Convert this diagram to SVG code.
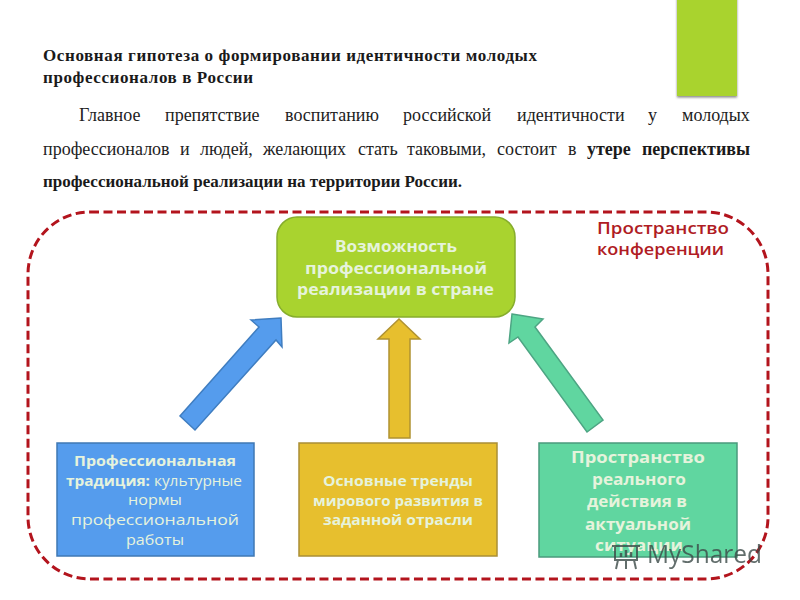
<svg xmlns="http://www.w3.org/2000/svg" width="800" height="600" viewBox="0 0 800 600">
<style>
.h{font:bold 17px "Liberation Serif",serif;fill:#1a1a1a}
.p{font:18px "Liberation Serif",serif;fill:#222}
.b{font:bold 18px "Liberation Serif",serif;fill:#1a1a1a}
.b3{font:bold 17px "Liberation Serif",serif;fill:#1a1a1a}
.l{font-family:"Open Sans","Liberation Sans",sans-serif;font-weight:700;fill:#e6f3dc}
.n{font-weight:400}
.r{font-family:"Open Sans","Liberation Sans",sans-serif;font-weight:600;font-size:17px;fill:#b01c24}
.box{stroke-width:1.5}
.wm{stroke:#3c4a48;fill:none;stroke-width:2}
</style>
<defs>
<filter id="sh" x="-20%" y="-20%" width="140%" height="140%"><feDropShadow dx="0" dy="1.5" stdDeviation="1" flood-color="#555" flood-opacity=".7"/></filter>
</defs>
<rect width="800" height="600" fill="#fff"/>
<g id="title">
<text class="h" x="43" y="61" textLength="494">Основная гипотеза о формировании идентичности молодых</text>
<text class="h" x="43" y="83" textLength="210">профессионалов в России</text>
</g>
<g id="body">
<text class="p" y="121"><tspan x="79">Главное</tspan><tspan x="165">препятствие</tspan><tspan x="285">воспитанию</tspan><tspan x="403">российской</tspan><tspan x="517">идентичности</tspan><tspan x="648">у</tspan><tspan x="682">молодых</tspan></text>
<text class="p" y="155"><tspan x="43">профессионалов</tspan><tspan x="180">и</tspan><tspan x="200">людей,</tspan><tspan x="263">желающих</tspan><tspan x="358">стать</tspan><tspan x="407">таковыми,</tspan><tspan x="497">состоит</tspan><tspan x="568">в</tspan><tspan x="587" class="b">утере</tspan><tspan x="642" class="b">перспективы</tspan></text>
<text class="b3" x="43" y="187" textLength="419">профессиональной реализации на территории России.</text>
</g>
<rect id="accent" x="677" y="-5" width="60" height="101" fill="#a9d32f" filter="url(#sh)"/>
<rect id="conference" x="28" y="212" width="740" height="367" rx="62" fill="none" stroke="#b3141d" stroke-width="3" stroke-dasharray="9 4.5"/>
<text class="r" x="597" y="234" textLength="132" lengthAdjust="spacingAndGlyphs">Пространство</text>
<text class="r" x="597" y="255" textLength="127" lengthAdjust="spacingAndGlyphs">конференции</text>
<g id="connectors" stroke-width="1.5" stroke-linejoin="miter">
<polygon points="281,318 251,320 259,327 180,416 195,430 276,340 282,347" fill="#559ced" stroke="#3f7dc0"/>
<polygon points="399,319 378,339 389,339 389,438 410,438 410,339 420,339" fill="#e7bf2e" stroke="#b09232"/>
<polygon points="512,314 543,319 535,327 603,420 587,432 518,337 509,343" fill="#60d6a0" stroke="#4da583"/>
</g>
<g id="node-top">
<rect class="box" x="277" y="217" width="238" height="100" rx="20" fill="#a9d32f" stroke="#86ad2d"/>
<g class="l" font-size="16">
<text x="335" y="252" textLength="122" lengthAdjust="spacingAndGlyphs">Возможность</text>
<text x="305" y="274" textLength="182" lengthAdjust="spacingAndGlyphs">профессиональной</text>
<text x="297" y="295" textLength="197" lengthAdjust="spacingAndGlyphs">реализации в стране</text>
</g>
</g>
<g id="node-left">
<rect class="box" x="57" y="443" width="197" height="113" fill="#559ced" stroke="#3f78b4"/>
<g class="l" font-size="15">
<text x="74" y="466" textLength="162" lengthAdjust="spacingAndGlyphs">Профессиональная</text>
<text x="66" y="486" textLength="176" lengthAdjust="spacingAndGlyphs">традиция: <tspan class="n">культурные</tspan></text>
<text class="n" x="128" y="505" textLength="54" lengthAdjust="spacingAndGlyphs">нормы</text>
<text class="n" x="71" y="525" textLength="168" lengthAdjust="spacingAndGlyphs">профессиональной</text>
<text class="n" x="126" y="545" textLength="58" lengthAdjust="spacingAndGlyphs">работы</text>
</g>
</g>
<g id="node-middle">
<rect class="box" x="299" y="443" width="198" height="113" fill="#e7bf2e" stroke="#aa8f36"/>
<g class="l" font-size="14">
<text x="323" y="486" textLength="150" lengthAdjust="spacingAndGlyphs">Основные тренды</text>
<text x="313" y="506" textLength="170" lengthAdjust="spacingAndGlyphs">мирового развития в</text>
<text x="323" y="525" textLength="150" lengthAdjust="spacingAndGlyphs">заданной отрасли</text>
</g>
</g>
<g id="node-right">
<rect class="box" x="539" y="443" width="198" height="114" fill="#60d6a0" stroke="#4a9a7c"/>
<g class="l" font-size="16.5">
<text x="571" y="463" textLength="134" lengthAdjust="spacingAndGlyphs">Пространство</text>
<text x="592" y="485" textLength="94" lengthAdjust="spacingAndGlyphs">реального</text>
<text x="587" y="507" textLength="100" lengthAdjust="spacingAndGlyphs">действия в</text>
<text x="585" y="530" textLength="106" lengthAdjust="spacingAndGlyphs">актуальной</text>
<text x="595" y="551" textLength="88" lengthAdjust="spacingAndGlyphs">ситуации</text>
</g>
</g>
<g id="watermark" opacity=".8">
<rect class="wm" x="615" y="546" width="22" height="14"/>
<path class="wm" d="M612 546H640M618 560L616 569M634 560L636 569M626 560V569"/>
<path d="M621 557v-4M626 557v-7M631 557v-5" stroke="#3c4a48" stroke-width="2.5" fill="none"/>
<text x="647" y="563" font-family="Open Sans,sans-serif" font-size="25" fill="#3c4a48" textLength="115" lengthAdjust="spacingAndGlyphs">MyShared</text>
</g>
</svg>
